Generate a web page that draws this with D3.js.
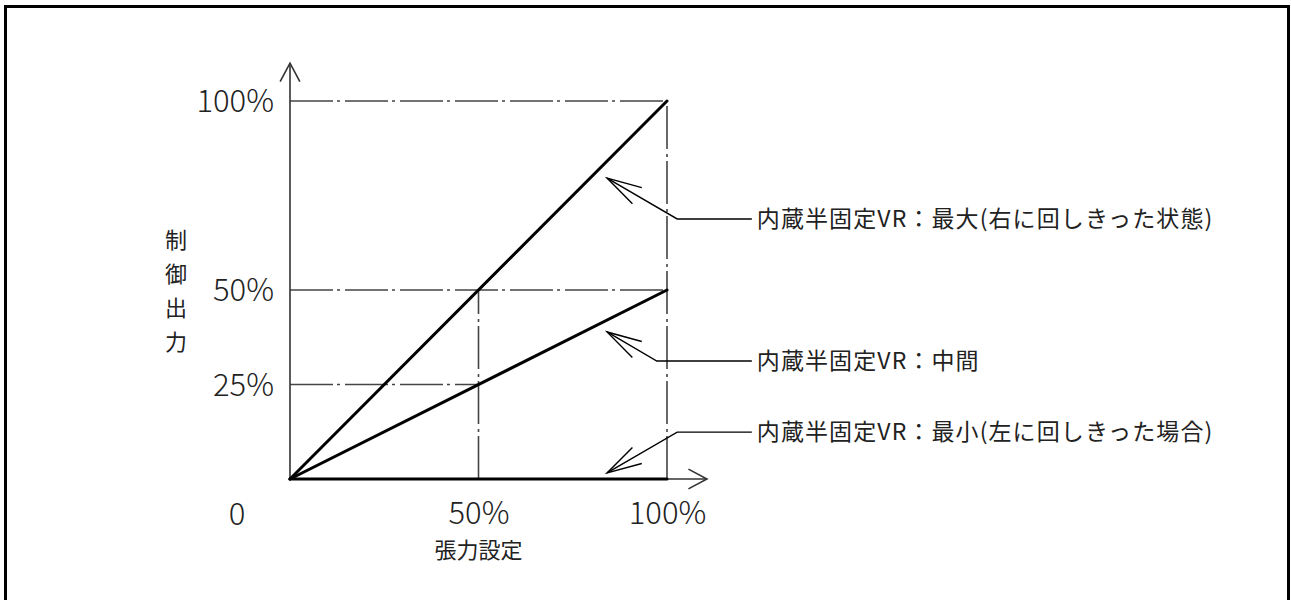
<!DOCTYPE html>
<html>
<head>
<meta charset="utf-8">
<script src="https://cdn.jsdelivr.net/npm/d3@7"></script>
<style>
  html, body { margin: 0; padding: 0; background: #fff; }
  svg { display: block; }
  text { font-family: "Noto Sans CJK JP", "Noto Sans", sans-serif; fill: #222; }
</style>
</head>
<body>
<svg id="chart"></svg>
<script>
// --- data ---
const xTicks = [50, 100];            // 張力設定 (%)
const yTicks = [25, 50, 100];        // 制御出力 (%)
const xValues = [0, 100];
const seriesMax = [0, 100];          // 内蔵半固定VR：最大
const seriesMid = [0, 50];           // 内蔵半固定VR：中間
const seriesMin = [0, 0];            // 内蔵半固定VR：最小
const annLabels = [
  "内蔵半固定VR：最大(右に回しきった状態)",
  "内蔵半固定VR：中間",
  "内蔵半固定VR：最小(左に回しきった場合)"
];
// arrow tip / elbow / label, in data units
const annTipX = [84.1, 84.1, 84.1];
const annTipY = [79.6, 38.9, 1.6];
const annElbowX = [102.7, 97.3, 102.7];
const annLabelY = [68.8, 31.2, 12.4];
const annEndX = 122.5;

const width = 1291, height = 600;
const svg = d3.select("#chart").attr("width", width).attr("height", height);

// frame
svg.append("rect")
  .attr("x", 5.5).attr("y", 6.5)
  .attr("width", 1283).attr("height", 620)
  .attr("fill", "none").attr("stroke", "#000").attr("stroke-width", 3);

const x = d3.scaleLinear().domain([0, 100]).range([290, 667]);
const y = d3.scaleLinear().domain([0, 100]).range([479, 101]);

const thin = "#333";
const dashed = "43,4,3,5";

// --- dash-dot guide lines ---
const guides = [
  [[0, 100], [100, 100]],
  [[0, 50], [100, 50]],
  [[0, 25], [50, 25]],
  [[50, 0], [50, 50]],
  [[100, 0], [100, 100]]
];
svg.selectAll(".guide").data(guides).join("line")
  .attr("class", "guide")
  .attr("x1", d => x(d[0][0])).attr("y1", d => y(d[0][1]))
  .attr("x2", d => x(d[1][0])).attr("y2", d => y(d[1][1]))
  .attr("stroke", "#444").attr("stroke-width", 1.6)
  .attr("stroke-dasharray", dashed);

// --- axes lines with open arrows ---
const axisG = svg.append("g").attr("stroke", thin).attr("stroke-width", 1.6).attr("fill", "none");
const yTop = y(110), xEnd = x(110.6);
axisG.append("line").attr("x1", x(0)).attr("y1", y(0)).attr("x2", x(0)).attr("y2", yTop);
axisG.append("line").attr("x1", x(0)).attr("y1", y(0)).attr("x2", xEnd).attr("y2", y(0));

function chevron(g, tx, ty, angle, len, half) {
  // angle: direction pointing back from tip (radians)
  const p1 = [tx + len * Math.cos(angle - half), ty + len * Math.sin(angle - half)];
  const p2 = [tx + len * Math.cos(angle + half), ty + len * Math.sin(angle + half)];
  g.append("path").attr("d", `M${p1[0]},${p1[1]}L${tx},${ty}L${p2[0]},${p2[1]}`);
}
const axHalf = 28 * Math.PI / 180;
chevron(axisG, x(0), yTop, Math.PI / 2, 21, axHalf);
chevron(axisG, xEnd, y(0), Math.PI, 21, axHalf);

// --- data lines ---
const line = d3.line().x((d, i) => x(xValues[i])).y(d => y(d));
[seriesMax, seriesMid, seriesMin].forEach(s => {
  svg.append("path").datum(s)
    .attr("d", line)
    .attr("fill", "none").attr("stroke", "#000").attr("stroke-width", 3)
    .attr("stroke-linecap", "round");
});

// --- tick labels ---
const yAxis = svg.append("g").attr("transform", `translate(${x(0)},0)`)
  .call(d3.axisLeft(y).tickValues(yTicks).tickFormat(d => d + "%").tickSize(0).tickPadding(16));
const xAxis = svg.append("g").attr("transform", `translate(0,${y(0)})`)
  .call(d3.axisBottom(x).tickValues(xTicks).tickFormat(d => d + "%").tickSize(0).tickPadding(23));
[yAxis, xAxis].forEach(a => {
  a.select(".domain").remove();
  a.selectAll("text")
    .style("font-family", "'Noto Sans CJK JP', sans-serif")
    .style("font-size", "31px").style("font-weight", 300).attr("fill", "#222");
});
yAxis.selectAll("text").attr("dy", "0.35em");

svg.append("text")
  .attr("x", x(0) - 53).attr("y", y(0) + 46)
  .attr("text-anchor", "middle")
  .style("font-size", "31px").style("font-weight", 300)
  .text("0");

// axis titles
svg.append("text")
  .attr("x", x(50)).attr("y", 558)
  .attr("text-anchor", "middle")
  .style("font-size", "22px")
  .text("張力設定");

const yTitle = "制御出力".split("");
svg.append("g").selectAll("text").data(yTitle).join("text")
  .attr("x", 176).attr("y", (d, i) => 248 + i * 34)
  .attr("text-anchor", "middle")
  .style("font-size", "22px")
  .text(d => d);

// --- annotations ---
const annG = svg.append("g").attr("stroke", "#000").attr("stroke-width", 1.4).attr("fill", "none");
const annHalf = 15 * Math.PI / 180;
annLabels.forEach((lab, i) => {
  const tx = x(annTipX[i]), ty = y(annTipY[i]);
  const ex = x(annElbowX[i]), ey = y(annLabelY[i]);
  annG.append("path").attr("d", `M${tx},${ty}L${ex},${ey}L${x(annEndX)},${ey}`);
  chevron(annG, tx, ty, Math.atan2(ey - ty, ex - tx), 36, annHalf);
  svg.append("text")
    .attr("x", x(annEndX) + 5).attr("y", ey)
    .attr("dy", "0.36em")
    .style("font-size", "23px")
    .style("letter-spacing", "1.1px")
    .text(lab);
});
</script>
</body>
</html>
